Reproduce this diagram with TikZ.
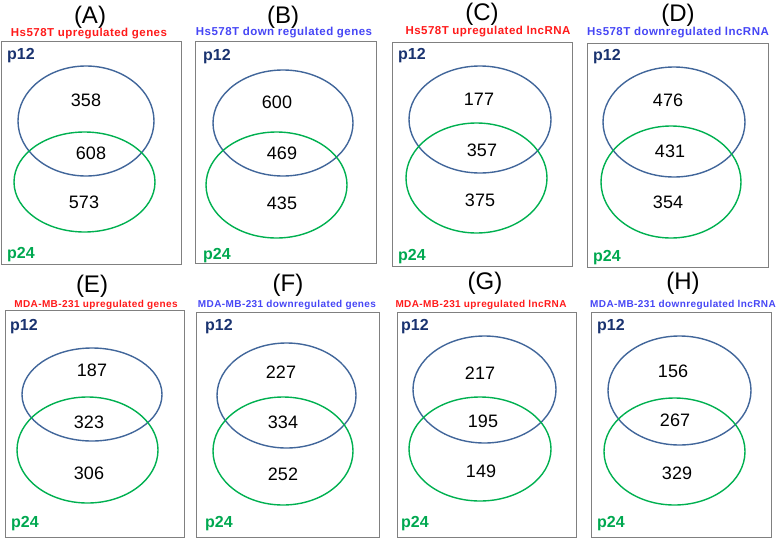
\documentclass[tikz,border=0pt]{standalone}
\usepackage{fontspec}
\setmainfont{Liberation Sans}
\usetikzlibrary{shapes.geometric}
\definecolor{ellblue}{HTML}{41669A}
\definecolor{ellgreen}{HTML}{00B050}
\definecolor{pnavy}{HTML}{1A3370}
\definecolor{pgreen}{HTML}{00A850}
\definecolor{upred}{HTML}{FF1A1A}
\definecolor{downblue}{HTML}{4646F5}
\definecolor{boxgray}{HTML}{808080}
\tikzset{
  panelbox/.style={draw=boxgray, line width=1pt},
  bset/.style={ellipse, draw=ellblue, line width=1.4pt, inner sep=0pt},
  gset/.style={ellipse, draw=ellgreen, line width=1.4pt, inner sep=0pt},
  num/.style={font=\fontsize{18}{18}\selectfont, text=black, inner sep=0pt},
  ptitle/.style={font=\fontsize{24}{24}\selectfont, inner sep=0pt},
  subup/.style={font=\fontsize{11.5}{12}\bfseries\addfontfeatures{LetterSpace=4}, text=upred, inner sep=0pt},
  subdown/.style={font=\fontsize{11.5}{12}\bfseries\addfontfeatures{LetterSpace=4}, text=downblue, inner sep=0pt},
  subupsm/.style={font=\fontsize{10}{11}\bfseries\addfontfeatures{LetterSpace=4}, text=upred, inner sep=0pt},
  subdownsm/.style={font=\fontsize{10}{11}\bfseries\addfontfeatures{LetterSpace=4}, text=downblue, inner sep=0pt},
  lab12/.style={font=\fontsize{16}{16}\bfseries, text=pnavy, anchor=west, inner sep=0pt},
  lab24/.style={font=\fontsize{16}{16}\bfseries, text=pgreen, anchor=west, inner sep=0pt},
}
\begin{document}
\begin{tikzpicture}[x=1pt,y=-1pt]
\useasboundingbox (0,0) rectangle (778,538);
% ---------- (A)
\node[ptitle] (A-title) at (90,17) {(A)};
\node[subup] (A-sub) at (89,34) {Hs578T upregulated genes};
\draw[panelbox] (1,41) rectangle (181,264);
\node[lab12] (A-l12) at (7,56) {p12};
\node[lab24] (A-l24) at (7,255) {p24};
\node[bset, minimum width=136pt, minimum height=110pt] (A-b) at (86,121) {};
\node[gset, minimum width=141pt, minimum height=100pt] (A-g) at (84.5,182) {};
\node[num] (A-n1) at (86,100) {358};
\node[num] (A-n2) at (91,153) {608};
\node[num] (A-n3) at (84,202) {573};
% ---------- (B)
\node[ptitle] (B-title) at (283,17) {(B)};
\node[subdown] (B-sub) at (284,33) {Hs578T down regulated genes};
\draw[panelbox] (195,41) rectangle (376,263);
\node[lab12] (B-l12) at (203,57) {p12};
\node[lab24] (B-l24) at (203,256) {p24};
\node[bset, minimum width=140pt, minimum height=106pt] (B-b) at (283,123) {};
\node[gset, minimum width=141pt, minimum height=106pt] (B-g) at (276.5,185) {};
\node[num] (B-n1) at (277,102) {600};
\node[num] (B-n2) at (282,153) {469};
\node[num] (B-n3) at (282,203) {435};
% ---------- (C)
\node[ptitle] (C-title) at (482,14) {(C)};
\node[subup] (C-sub) at (488,32) {Hs578T upregulated lncRNA};
\draw[panelbox] (392,42) rectangle (572,266);
\node[lab12] (C-l12) at (398,56) {p12};
\node[lab24] (C-l24) at (398,257) {p24};
\node[bset, minimum width=142pt, minimum height=107pt] (C-b) at (480,119.5) {};
\node[gset, minimum width=141pt, minimum height=110pt] (C-g) at (476.5,178) {};
\node[num] (C-n1) at (479,99) {177};
\node[num] (C-n2) at (482,150) {357};
\node[num] (C-n3) at (480,200) {375};
% ---------- (D)
\node[ptitle] (D-title) at (678,15) {(D)};
\node[subdown] (D-sub) at (678,33) {Hs578T downregulated lncRNA};
\draw[panelbox] (587,43) rectangle (768,267);
\node[lab12] (D-l12) at (593,57) {p12};
\node[lab24] (D-l24) at (593,258) {p24};
\node[bset, minimum width=142pt, minimum height=110pt] (D-b) at (674,122) {};
\node[gset, minimum width=140pt, minimum height=112pt] (D-g) at (671,182) {};
\node[num] (D-n1) at (668,100) {476};
\node[num] (D-n2) at (670,151) {431};
\node[num] (D-n3) at (668,202) {354};
% ---------- (E)
\node[ptitle] (E-title) at (92,286) {(E)};
\node[subupsm] (E-sub) at (96,305) {MDA-MB-231 upregulated genes};
\draw[panelbox] (5,310) rectangle (184,537);
\node[lab12] (E-l12) at (10,327) {p12};
\node[lab24] (E-l24) at (11,524) {p24};
\node[bset, minimum width=140pt, minimum height=93pt] (E-b) at (92,394.5) {};
\node[gset, minimum width=141pt, minimum height=106pt] (E-g) at (87.5,450) {};
\node[num] (E-n1) at (92,370) {187};
\node[num] (E-n2) at (89,422) {323};
\node[num] (E-n3) at (89,473) {306};
% ---------- (F)
\node[ptitle] (F-title) at (288,285) {(F)};
\node[subdownsm] (F-sub) at (287,305) {MDA-MB-231 downregulated genes};
\draw[panelbox] (196,312) rectangle (379,537);
\node[lab12] (F-l12) at (205,327) {p12};
\node[lab24] (F-l24) at (205,524) {p24};
\node[bset, minimum width=139pt, minimum height=105pt] (F-b) at (286.5,395.5) {};
\node[gset, minimum width=140pt, minimum height=108pt] (F-g) at (283,451) {};
\node[num] (F-n1) at (281,372) {227};
\node[num] (F-n2) at (283,422) {334};
\node[num] (F-n3) at (283,474) {252};
% ---------- (G)
\node[ptitle] (G-title) at (485,283) {(G)};
\node[subupsm] (G-sub) at (481,305) {MDA-MB-231 upregulated lncRNA};
\draw[panelbox] (397,312) rectangle (576,537);
\node[lab12] (G-l12) at (401,327) {p12};
\node[lab24] (G-l24) at (401,524) {p24};
\node[bset, minimum width=143pt, minimum height=107pt] (G-b) at (484.5,389.5) {};
\node[gset, minimum width=142pt, minimum height=104pt] (G-g) at (480,449) {};
\node[num] (G-n1) at (480,373) {217};
\node[num] (G-n2) at (483,421) {195};
\node[num] (G-n3) at (481,471) {149};
% ---------- (H)
\node[ptitle] (H-title) at (683,283) {(H)};
\node[subdownsm] (H-sub) at (683,305) {MDA-MB-231 downregulated lncRNA};
\draw[panelbox] (591,312) rectangle (771,537);
\node[lab12] (H-l12) at (597,327) {p12};
\node[lab24] (H-l24) at (597,524) {p24};
\node[bset, minimum width=143pt, minimum height=109pt] (H-b) at (679.5,390.5) {};
\node[gset, minimum width=141pt, minimum height=107pt] (H-g) at (674.5,451.5) {};
\node[num] (H-n1) at (673,371) {156};
\node[num] (H-n2) at (675,420) {267};
\node[num] (H-n3) at (677,473) {329};
\end{tikzpicture}
\end{document}
